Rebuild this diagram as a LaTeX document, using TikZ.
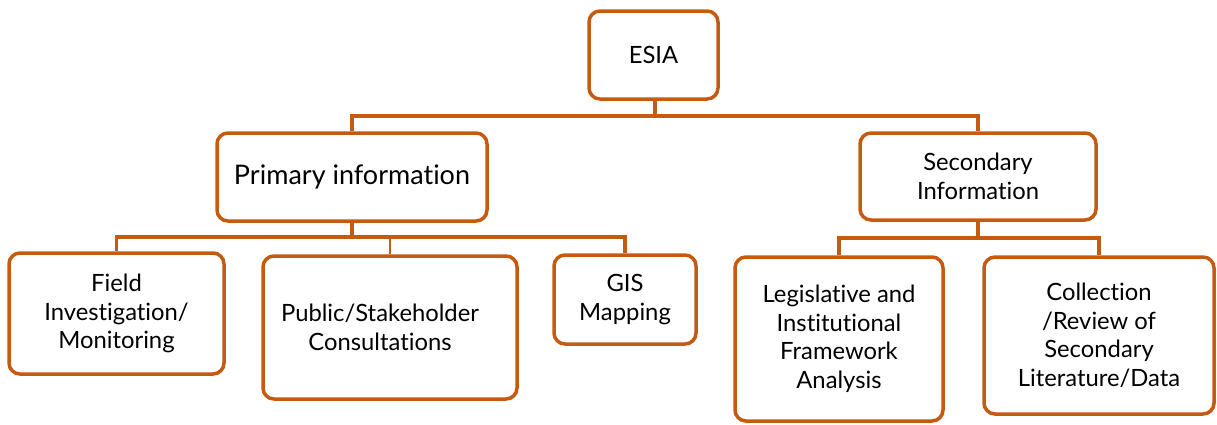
\documentclass[tikz,border=0pt]{standalone}
\usepackage{fontspec}
\setmainfont{Lato}[Ligatures=NoCommon]
\definecolor{edge}{RGB}{197,90,17}
\tikzset{
  box/.style={draw=edge, line width=3.5pt, rounded corners=11pt, fill=white, align=center,
    inner sep=0pt, font=\fontsize{23.8}{28.5}\selectfont},
  conn/.style={draw=edge, line width=3.5pt},
}
\begin{document}
\begin{tikzpicture}[x=1pt,y=-1pt]
\useasboundingbox (0,0) rectangle (1217,424);
\node[box, minimum width=129pt, minimum height=88pt] (esia) at (653.5,55) {ESIA};
\node[box, minimum width=270pt, minimum height=88pt, font=\fontsize{27}{32}\selectfont] (prim) at (352,177) {Primary information};
\node[box, minimum width=236pt, minimum height=87pt] (sec) at (978,176.5) {Secondary\\Information};
\node[box, minimum width=215pt, minimum height=121pt] (field) at (116.5,313.5) {Field\\Investigation/\\Monitoring};
\node[box, minimum width=254pt, minimum height=143pt] (pub) at (390,327.5) {\hspace*{-20pt}Public/Stakeholder\\\hspace*{-20pt}Consultations};
\node[box, minimum width=142pt, minimum height=89pt] (gis) at (625,299.5) {GIS\\Mapping};
\node[box, minimum width=208pt, minimum height=164pt] (leg) at (839,339) {Legislative and\\Institutional\\Framework\\Analysis};
\node[box, minimum width=230pt, minimum height=157pt] (coll) at (1099,335.5) {Collection\\/Review of\\Secondary\\Literature/Data};
\coordinate (t) at (655,116);
\coordinate (p) at (352,237);
\coordinate (s) at (978,238);
\draw[conn] (esia.south -| t) -- (t);
\draw[conn] (prim.north) |- (t) -| (sec.north);
\draw[conn] (prim.south) -- (p);
\draw[conn] (field.north) |- (p) -| (gis.north);
\draw[conn, line width=2.5pt] (pub.north) -- (pub.north |- p);
\draw[conn] (sec.south) -- (s);
\draw[conn] (leg.north) |- (s) -| (coll.north);
\end{tikzpicture}
\end{document}
